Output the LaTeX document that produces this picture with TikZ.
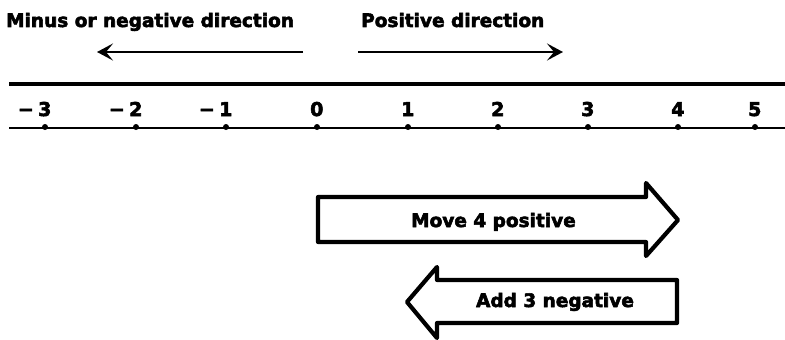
\documentclass[tikz,border=0pt]{standalone}
\usepackage{fontspec}
\setmainfont{DejaVu Sans}[BoldFeatures={FakeBold=3}]
\usetikzlibrary{arrows.meta}
\begin{document}
\begin{tikzpicture}[x=1pt,y=-1pt,
  lbl/.style={inner sep=0pt, font=\bfseries\fontsize{18.5}{20}\selectfont},
  num/.style={inner sep=0pt, anchor=base east, font=\bfseries\fontsize{19}{20}\selectfont},
  dirarrow/.style={line width=2.6pt, -{Stealth[length=16pt,width=17pt,inset=7pt]}},
  axis/.style={line width=3.2pt},
  tickdot/.style={circle, fill=black, inner sep=0pt, minimum size=6pt},
  blockarrow/.style={line width=4.2pt, line join=round, fill=white}]
\useasboundingbox (0,0) rectangle (785,340);
% headings
\node[lbl, anchor=base west] (neglbl) at (6,27) {Minus or negative direction};
\node[lbl, anchor=base west] (poslbl) at (361,27) {Positive direction};
% direction arrows
\coordinate (negtail) at (303,52);
\coordinate (neghead) at (97,52);
\coordinate (postail) at (358,52);
\coordinate (poshead) at (563,52);
\draw[dirarrow] (negtail) -- (neghead);
\draw[dirarrow] (postail) -- (poshead);
% number line
\coordinate (topL) at (9,84);
\coordinate (topR) at (785,84);
\coordinate (botL) at (9,128);
\coordinate (botR) at (785,128);
\draw[axis] (topL) -- (topR);
\draw[line width=2.8pt] (botL) -- (botR);
% ticks and numbers
\foreach \x/\n/\t in {45/m3/{−\kern4.4pt 3}, 136/m2/{−\kern4.4pt 2}, 226/m1/{−\kern4.4pt 1}, 317/z/0, 408/p1/1, 498/p2/2, 588/p3/3, 678/p4/4, 755/p5/5}{
  \node[tickdot] (tick\n) at (\x,127) {};
  \node[num] (num\n) at (\x+6.6,116) {\t};
}
% block arrow: Move 4 positive
\draw[blockarrow] (318,197) -- (646,197) -- (646,183) -- (678,220) -- (646,256) -- (646,242) -- (318,242) -- cycle;
\node[lbl, anchor=base] (move) at (493.5,227) {Move 4 positive};
% block arrow: Add 3 negative
\draw[blockarrow] (677,280) -- (437,280) -- (437,267) -- (407,302) -- (437,338) -- (437,323) -- (677,323) -- cycle;
\node[lbl, anchor=base] (add) at (555,307) {Add 3 negative};
\end{tikzpicture}
\end{document}
